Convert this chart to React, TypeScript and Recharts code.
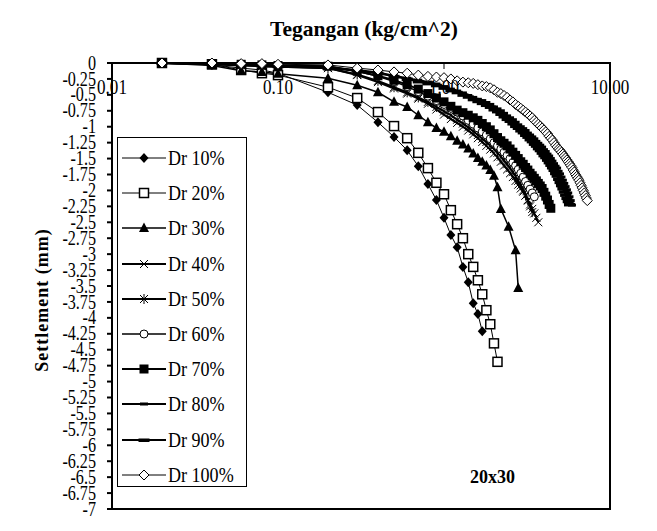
import React from "react";
import { LineChart, Line, XAxis, YAxis, ReferenceArea } from "recharts";

// load steps (kg/cm^2)
const loads = [
  0.02, 0.04, 0.06, 0.08, 0.1, 0.2, 0.3, 0.4, 0.5, 0.6, 0.7, 0.8, 0.9, 1.0,
  1.1, 1.2, 1.3, 1.4, 1.5, 1.6, 1.7, 1.8, 1.9, 2.0, 2.1, 2.2, 2.3, 2.4, 2.5,
  2.6, 2.7, 2.8, 2.9, 3.0, 3.1, 3.2, 3.3, 3.4, 3.5, 3.6, 3.7, 3.8, 3.9, 4.0,
  4.1, 4.2, 4.3, 4.4, 4.5, 4.6, 4.7, 4.8, 4.9, 5.0, 5.1, 5.2, 5.3, 5.4, 5.5,
  5.6, 5.7, 5.8, 5.9, 6.0, 6.1, 6.2, 6.3, 6.4, 6.5, 6.6, 6.7, 6.8, 6.9, 7.0,
  7.1, 7.2, 7.3,
];
const loadsDr30 = [
  0.02, 0.04, 0.06, 0.08, 0.1, 0.2, 0.3, 0.4, 0.5, 0.6, 0.7, 0.8, 0.9, 1.0,
  1.1, 1.2, 1.3, 1.4, 1.5, 1.6, 1.7, 1.8, 1.9, 2.0, 2.1, 2.2, 2.45, 2.7, 2.8,
];

// settlement (mm)
const dr10 = [0, -0.03, -0.08, -0.11, -0.16, -0.46, -0.66, -0.93, -1.16, -1.37, -1.62, -1.9, -2.15, -2.43, -2.7, -2.89, -3.2, -3.44, -3.77, -3.94, -4.21];
const dr20 = [0, -0.02, -0.11, -0.16, -0.19, -0.38, -0.55, -0.77, -0.99, -1.18, -1.41, -1.65, -1.88, -2.06, -2.31, -2.53, -2.75, -3.0, -3.2, -3.41, -3.63, -3.88, -4.1, -4.4, -4.69];
const dr30 = [0, -0.04, -0.12, -0.14, -0.17, -0.24, -0.35, -0.46, -0.61, -0.69, -0.82, -0.93, -1.02, -1.08, -1.15, -1.22, -1.28, -1.34, -1.42, -1.49, -1.55, -1.61, -1.68, -1.77, -1.95, -2.29, -2.57, -2.94, -3.53];
const dr40 = [0, -0.02, -0.04, -0.05, -0.06, -0.08, -0.19, -0.3, -0.4, -0.48, -0.56, -0.64, -0.73, -0.81, -0.88, -0.94, -1.0, -1.06, -1.12, -1.18, -1.24, -1.3, -1.36, -1.42, -1.48, -1.55, -1.61, -1.67, -1.73, -1.79, -1.85, -1.91, -1.97, -2.02, -2.08, -2.15, -2.22, -2.29, -2.36, -2.43, -2.5];
const dr50 = [0, -0.02, -0.03, -0.05, -0.06, -0.08, -0.18, -0.28, -0.38, -0.46, -0.54, -0.61, -0.69, -0.76, -0.82, -0.89, -0.95, -1.01, -1.07, -1.13, -1.19, -1.24, -1.3, -1.35, -1.41, -1.47, -1.53, -1.59, -1.65, -1.71, -1.78, -1.85, -1.92, -2.0, -2.08, -2.16, -2.25, -2.34];
const dr60 = [0, -0.01, -0.02, -0.03, -0.04, -0.05, -0.13, -0.21, -0.29, -0.37, -0.45, -0.52, -0.59, -0.65, -0.71, -0.77, -0.83, -0.9, -0.96, -1.02, -1.08, -1.13, -1.19, -1.25, -1.3, -1.35, -1.4, -1.45, -1.5, -1.56, -1.61, -1.67, -1.73, -1.79, -1.86, -1.92, -1.98, -2.04, -2.1];
const dr70 = [0, -0.01, -0.02, -0.03, -0.04, -0.05, -0.13, -0.2, -0.27, -0.34, -0.41, -0.48, -0.55, -0.61, -0.68, -0.74, -0.78, -0.82, -0.86, -0.9, -0.95, -1.0, -1.05, -1.11, -1.17, -1.22, -1.26, -1.3, -1.35, -1.4, -1.45, -1.5, -1.55, -1.59, -1.64, -1.68, -1.73, -1.77, -1.81, -1.85, -1.89, -1.93, -1.97, -2.03, -2.09, -2.15, -2.22, -2.28];
const dr80 = [0, -0.01, -0.02, -0.03, -0.04, -0.07, -0.11, -0.15, -0.2, -0.24, -0.27, -0.3, -0.33, -0.37, -0.41, -0.44, -0.47, -0.51, -0.54, -0.57, -0.59, -0.62, -0.65, -0.69, -0.72, -0.75, -0.79, -0.83, -0.86, -0.89, -0.93, -0.97, -1.0, -1.03, -1.06, -1.1, -1.13, -1.16, -1.19, -1.23, -1.26, -1.29, -1.32, -1.36, -1.39, -1.43, -1.46, -1.5, -1.54, -1.58, -1.62, -1.65, -1.7, -1.74, -1.79, -1.84, -1.89, -1.94, -1.99, -2.04, -2.1, -2.16, -2.23];
const dr90 = [0, -0.01, -0.02, -0.04, -0.05, -0.08, -0.12, -0.16, -0.21, -0.25, -0.29, -0.32, -0.35, -0.39, -0.43, -0.46, -0.5, -0.53, -0.57, -0.6, -0.63, -0.66, -0.69, -0.73, -0.76, -0.8, -0.84, -0.88, -0.91, -0.95, -0.99, -1.02, -1.06, -1.09, -1.13, -1.16, -1.2, -1.23, -1.27, -1.3, -1.34, -1.37, -1.41, -1.45, -1.48, -1.52, -1.56, -1.6, -1.64, -1.68, -1.73, -1.77, -1.82, -1.87, -1.92, -1.97, -2.02, -2.07, -2.12, -2.17, -2.22];
const dr100 = [0, 0, -0.01, -0.01, -0.02, -0.03, -0.08, -0.11, -0.14, -0.16, -0.19, -0.21, -0.22, -0.23, -0.25, -0.28, -0.3, -0.31, -0.32, -0.34, -0.36, -0.37, -0.39, -0.42, -0.46, -0.48, -0.51, -0.54, -0.58, -0.61, -0.65, -0.68, -0.71, -0.74, -0.77, -0.8, -0.83, -0.86, -0.9, -0.93, -0.96, -0.99, -1.02, -1.05, -1.08, -1.11, -1.15, -1.18, -1.21, -1.25, -1.29, -1.32, -1.35, -1.37, -1.4, -1.43, -1.46, -1.49, -1.52, -1.55, -1.58, -1.61, -1.64, -1.68, -1.71, -1.75, -1.78, -1.81, -1.84, -1.88, -1.92, -1.96, -2.0, -2.04, -2.08, -2.12, -2.16];

const xTicks = [0.01, 0.1, 1, 10];
const yTicks = [0, -0.25, -0.5, -0.75, -1, -1.25, -1.5, -1.75, -2, -2.25, -2.5, -2.75, -3, -3.25, -3.5, -3.75, -4, -4.25, -4.5, -4.75, -5, -5.25, -5.5, -5.75, -6, -6.25, -6.5, -6.75, -7];

const toPoints = (xs: number[], ys: number[]) => ys.map((y, i) => ({ x: xs[i], y }));

type MarkerKind =
  | "diamondFilled" | "squareOpen" | "triangle" | "cross" | "star"
  | "circleOpen" | "squareFilled" | "dashShort" | "dashLong" | "diamondOpen";

function Marker({ kind, cx, cy }: { kind: MarkerKind; cx: number; cy: number }) {
  switch (kind) {
    case "diamondFilled":
      return <polygon points={`${cx},${cy - 5} ${cx + 4.5},${cy} ${cx},${cy + 5} ${cx - 4.5},${cy}`} fill="#000" />;
    case "squareOpen":
      return <rect x={cx - 4.5} y={cy - 4.5} width={9} height={9} fill="#fff" stroke="#000" strokeWidth={1.5} />;
    case "triangle":
      return <polygon points={`${cx},${cy - 5.5} ${cx + 5},${cy + 4} ${cx - 5},${cy + 4}`} fill="#000" />;
    case "cross":
      return (
        <g stroke="#000" strokeWidth={1}>
          <line x1={cx - 4} y1={cy - 4} x2={cx + 4} y2={cy + 4} />
          <line x1={cx - 4} y1={cy + 4} x2={cx + 4} y2={cy - 4} />
        </g>
      );
    case "star":
      return (
        <g stroke="#000" strokeWidth={1}>
          <line x1={cx - 4} y1={cy - 4} x2={cx + 4} y2={cy + 4} />
          <line x1={cx - 4} y1={cy + 4} x2={cx + 4} y2={cy - 4} />
          <line x1={cx} y1={cy - 5} x2={cx} y2={cy + 5} />
        </g>
      );
    case "circleOpen":
      return <circle cx={cx} cy={cy} r={4} fill="#fff" stroke="#000" strokeWidth={1} />;
    case "squareFilled":
      return <rect x={cx - 4.5} y={cy - 4.5} width={9} height={9} fill="#000" />;
    case "dashShort":
      return <rect x={cx - 4} y={cy - 1.5} width={8} height={3} fill="#000" />;
    case "dashLong":
      return <rect x={cx - 5.5} y={cy - 1.5} width={11} height={3.5} fill="#000" />;
    case "diamondOpen":
      return <polygon points={`${cx},${cy - 5} ${cx + 5},${cy} ${cx},${cy + 5} ${cx - 5},${cy}`} fill="#fff" stroke="#000" strokeWidth={1} />;
  }
  return null;
}

const series: { name: string; data: { x: number; y: number }[]; marker: MarkerKind; width: number }[] = [
  { name: "Dr 10%", data: toPoints(loads, dr10), marker: "diamondFilled", width: 1 },
  { name: "Dr 20%", data: toPoints(loads, dr20), marker: "squareOpen", width: 1 },
  { name: "Dr 30%", data: toPoints(loadsDr30, dr30), marker: "triangle", width: 1.5 },
  { name: "Dr 40%", data: toPoints(loads, dr40), marker: "cross", width: 2 },
  { name: "Dr 50%", data: toPoints(loads, dr50), marker: "star", width: 2 },
  { name: "Dr 60%", data: toPoints(loads, dr60), marker: "circleOpen", width: 1.5 },
  { name: "Dr 70%", data: toPoints(loads, dr70), marker: "squareFilled", width: 2 },
  { name: "Dr 80%", data: toPoints(loads, dr80), marker: "dashShort", width: 2 },
  { name: "Dr 90%", data: toPoints(loads, dr90), marker: "dashLong", width: 2 },
  { name: "Dr 100%", data: toPoints(loads, dr100), marker: "diamondOpen", width: 1 },
];

const serif = "Liberation Serif, Times New Roman, Times, DejaVu Serif, serif";

// tall, narrow glyphs as in the scanned original
const YTick = (props: any) => {
  const { x, y, payload } = props;
  return (
    <g transform={`translate(${x},${y}) scale(0.95,1.2)`}>
      <text x={0} y={0} dy={5.5} textAnchor="end" fontSize={17} fill="#000" style={{ fontFamily: serif }}>
        {String(payload.value)}
      </text>
    </g>
  );
};

const XTick = (props: any) => {
  const { x, y, payload } = props;
  return (
    <g transform={`translate(${x},${y}) scale(0.95,1.15)`}>
      <text x={0} y={0} dy={15} textAnchor="middle" fontSize={18} fill="#000" style={{ fontFamily: serif }}>
        {Number(payload.value).toFixed(2)}
      </text>
    </g>
  );
};

function LegendBox() {
  return (
    <div
      style={{
        position: "absolute", left: 117, top: 137, width: 130, height: 350,
        border: "1.5px solid #000", background: "#fff", boxSizing: "border-box",
      }}
    >
      {series.map((s, i) => (
        <div key={s.name} style={{ position: "absolute", left: 0, top: 5 + i * 35.2, height: 30, display: "flex", alignItems: "center" }}>
          <svg width={48} height={30} style={{ display: "block" }}>
            <line x1={4} y1={15} x2={48} y2={15} stroke="#000" strokeWidth={s.width} />
            <Marker kind={s.marker} cx={26} cy={15} />
          </svg>
          <span style={{ fontFamily: serif, fontSize: 19, marginLeft: 2, whiteSpace: "nowrap", display: "inline-block", transform: "scale(0.95,1.15)", transformOrigin: "left center" }}>{s.name}</span>
        </div>
      ))}
    </div>
  );
}

export default function App() {
  return (
    <div style={{ position: "absolute", left: 0, top: 0, width: 657, height: 531, background: "#fff", fontFamily: serif }}>
      <LineChart width={657} height={531} margin={{ top: 63, right: 47, bottom: 22, left: 52 }}>
        <ReferenceArea x1={0.01} x2={10} y1={-7} y2={0} fill="none" stroke="#000" strokeWidth={2} />
        <XAxis
          dataKey="x"
          type="number"
          scale="log"
          domain={[0.01, 10]}
          allowDataOverflow
          ticks={xTicks}
          orientation="top"
          mirror
          tick={<XTick />}
          tickSize={6}
          tickMargin={8}
          axisLine={{ stroke: "#000", strokeWidth: 2 }}
          tickLine={{ stroke: "#000", strokeWidth: 1 }}
        />
        <YAxis
          type="number"
          domain={[-7, 0]}
          ticks={yTicks}
          interval={0}
          width={60}
          tick={<YTick />}
          tickSize={5}
          tickMargin={11}
          axisLine={{ stroke: "#000", strokeWidth: 2 }}
          tickLine={{ stroke: "#000", strokeWidth: 2 }}
        />
        {series.map((s) => (
          <Line
            key={s.name}
            data={s.data}
            dataKey="y"
            name={s.name}
            stroke="#000"
            strokeWidth={s.width}
            isAnimationActive={false}
            dot={(p: any) => <Marker key={`${s.name}-${p.index}`} kind={s.marker} cx={p.cx} cy={p.cy} />}
            activeDot={false}
          />
        ))}
      </LineChart>
      <div style={{ position: "absolute", left: 0, width: 728, top: 17, textAlign: "center", fontFamily: serif, fontWeight: "bold", fontSize: 21.5 }}>
        Tegangan (kg/cm^2)
      </div>
      <div
        style={{
          position: "absolute", left: 42, top: 300, transform: "translate(-50%, -50%) rotate(-90deg)",
          fontFamily: serif, fontWeight: "bold", fontSize: 18, whiteSpace: "nowrap", letterSpacing: 1,
        }}
      >
        Settlement (mm)
      </div>
      <div style={{ position: "absolute", left: 470, top: 467, fontFamily: serif, fontWeight: "bold", fontSize: 18 }}>20x30</div>
      <LegendBox />
    </div>
  );
}
